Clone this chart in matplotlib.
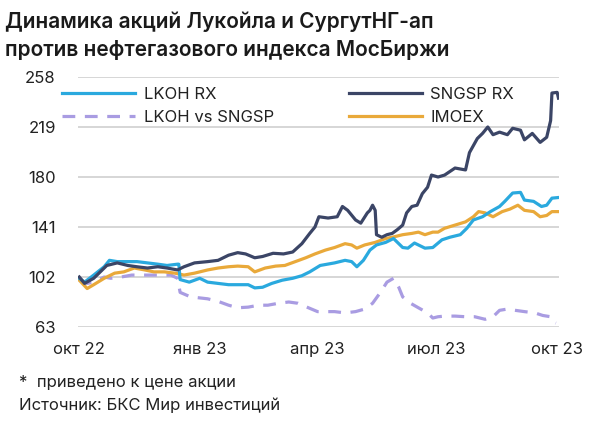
import matplotlib
matplotlib.use('Agg')
import matplotlib.pyplot as plt
import pandas as pd

plt.rcParams['font.family'] = ['Inter', 'DejaVu Sans']

# day offsets from 2022-10-01 and values
base = pd.Timestamp('2022-10-01')

sngsp_days = [0, 4, 11, 15, 21, 29, 37, 44, 52, 60, 67, 75, 80, 88, 98, 106, 114, 121, 127,
              134, 140, 148, 156, 163, 170, 176, 180, 183, 190, 197, 201, 205, 211, 215, 220,
              222, 224, 226, 227, 231, 235, 239, 243, 247, 250, 254, 258, 262, 266, 269, 274,
              279, 287, 295, 298, 304, 308, 312, 316, 321, 327, 331, 337, 340, 346, 352, 357,
              360, 361, 365, 366]
sngsp_vals = [102, 97, 101, 105, 111, 113, 111, 110, 109, 110, 109, 107.5, 110, 113, 114, 115,
              119, 121, 120, 117, 118, 120.5, 120, 121.5, 128, 136, 141, 149, 148, 149, 157, 154,
              146.5, 144, 152, 154, 158, 154, 135, 133, 135, 136, 139, 142.5, 152, 157, 158, 167,
              172, 181.5, 180, 181.5, 187, 185.5, 199, 210, 214, 219, 213, 215, 213, 218, 216.5,
              209, 214, 207, 211, 224, 245.5, 246, 241.5]

lkoh_days = [0, 4, 11, 19, 23, 29, 37, 44, 52, 60, 67, 75, 76, 77, 84, 92, 98, 106, 114, 121,
             129, 134, 140, 147, 155, 163, 170, 176, 184, 195, 203, 208, 212, 217, 222, 227,
             234, 240, 247, 251, 256, 264, 270, 277, 283, 291, 296, 301, 308, 314, 321, 325,
             331, 337, 340, 347, 353, 357, 361, 366]
lkoh_vals = [101, 98, 103.5, 110, 115, 114, 114, 114, 113, 112, 111, 112, 112, 100, 98, 101, 98,
             97, 96, 96, 96, 93.5, 94, 97, 99.5, 101, 103, 106, 111, 113, 115, 114, 110, 115, 123,
             127, 129, 132, 125, 124.5, 128.5, 124.5, 125, 131, 133, 135, 140, 146.5, 149, 153,
             157, 161, 167.5, 168, 162, 161, 157, 158, 163.5, 164]

imoex_days = [0, 6, 11, 19, 27, 34, 42, 50, 57, 65, 73, 80, 88, 98, 106, 114, 121, 129, 134,
              142, 150, 157, 165, 173, 180, 188, 195, 203, 208, 212, 218, 226, 234, 239, 247,
              254, 259, 264, 270, 274, 279, 287, 295, 301, 305, 310, 316, 323, 329, 335, 340,
              347, 352, 357, 361, 366]
imoex_vals = [99.5, 93, 96, 101, 105, 106, 109, 107.5, 106, 106, 105, 103.5, 105, 107.5, 109,
              110, 110.5, 110, 106, 109, 110.5, 111, 114, 117, 120, 123, 125, 128, 127, 124.5,
              127, 129, 132, 133, 135, 136, 137, 135, 137, 137, 140, 142.5, 145, 149, 153, 152,
              149, 153, 155, 158, 154, 153, 149, 150, 153, 153]

ratio_days = [0, 6, 11, 19, 24, 32, 40, 47, 55, 63, 70, 75, 77, 85, 98, 106, 114, 121, 129,
              137, 144, 152, 160, 167, 175, 182, 188, 195, 203, 211, 218, 224, 230, 235, 240,
              244, 247, 253, 259, 266, 270, 274, 279, 287, 295, 302, 310, 316, 321, 327, 333,
              340, 348, 354, 360, 362, 364]
ratio_vals = [99.5, 97, 98, 102, 101, 102, 103.5, 103.5, 103.5, 103.5, 103.5, 101, 90, 86.5, 85,
              83, 80, 78, 78.5, 80, 80, 81.5, 82.5, 81.5, 78, 75, 75, 75, 74, 75, 77, 81.5, 90,
              98, 101, 94, 86.5, 81.5, 78, 74, 70, 71, 71.5, 71.5, 71, 71, 69, 71, 76, 77, 76, 75,
              74, 72, 71, 67, 66]

y_ticks = [63, 102, 141, 180, 219, 258]
x_tick_dates = ['2022-10-01', '2023-01-01', '2023-04-01', '2023-07-01', '2023-10-01']
x_tick_labels = ['окт 22', 'янв 23', 'апр 23', 'июл 23', 'окт 23']

c_lkoh = '#2AA9DE'
c_sngsp = '#3B4566'
c_imoex = '#E9A93A'
c_ratio = '#A99CE2'


def to_dates(days):
    return [base + pd.Timedelta(days=d) for d in days]


fig = plt.figure(figsize=(6, 4.22), dpi=100)
ax = fig.add_axes([78 / 600, 1 - 327 / 422, 481 / 600, 250 / 422])

lw = 2.3
l_ratio, = ax.plot(to_dates(ratio_days), ratio_vals, color=c_ratio, lw=lw,
                   linestyle=(0, (4, 3)), label='LKOH vs SNGSP', zorder=2)
l_imoex, = ax.plot(to_dates(imoex_days), imoex_vals, color=c_imoex, lw=lw, label='IMOEX', zorder=3)
l_lkoh, = ax.plot(to_dates(lkoh_days), lkoh_vals, color=c_lkoh, lw=lw, label='LKOH RX', zorder=4)
l_sngsp, = ax.plot(to_dates(sngsp_days), sngsp_vals, color=c_sngsp, lw=lw, label='SNGSP RX', zorder=5)

ax.set_ylim(63, 258)
ax.set_xlim(base - pd.Timedelta(days=1), base + pd.Timedelta(days=366.4))
ax.set_yticks(y_ticks)
ax.set_xticks(pd.to_datetime(x_tick_dates))
ax.set_xticklabels(x_tick_labels)
ax.grid(axis='y', color='#D6D6D6', lw=1.4)
ax.set_axisbelow(True)
for s in ax.spines.values():
    s.set_visible(False)
ax.tick_params(length=0, labelsize=12, colors='#222222')
ax.tick_params(axis='y', pad=16)
ax.tick_params(axis='x', pad=11)

fig.legend(handles=[l_lkoh, l_ratio, l_sngsp, l_imoex], ncol=2, frameon=False,
           loc='upper left', bbox_to_anchor=(62 / 600, 1 - 87 / 422),
           fontsize=12, handlelength=4.4, handletextpad=0.5, columnspacing=4.5,
           labelspacing=0.45, borderpad=0, borderaxespad=0, labelcolor='#222222')

fig.text(5 / 600, 1 - 22 / 422, 'Динамика акций Лукойла и СургутНГ-ап', fontsize=15,
         fontweight='semibold', va='center', color='#1A1A1A')
fig.text(5 / 600, 1 - 50 / 422, 'против нефтегазового индекса МосБиржи', fontsize=15,
         fontweight='semibold', va='center', color='#1A1A1A')

fig.text(19 / 600, 1 - 383 / 422, '*  приведено к цене акции', fontsize=12,
         va='center', color='#222222')
fig.text(19 / 600, 1 - 405 / 422, 'Источник: БКС Мир инвестиций', fontsize=12,
         va='center', color='#222222')

fig.savefig('out.png', dpi=100)
